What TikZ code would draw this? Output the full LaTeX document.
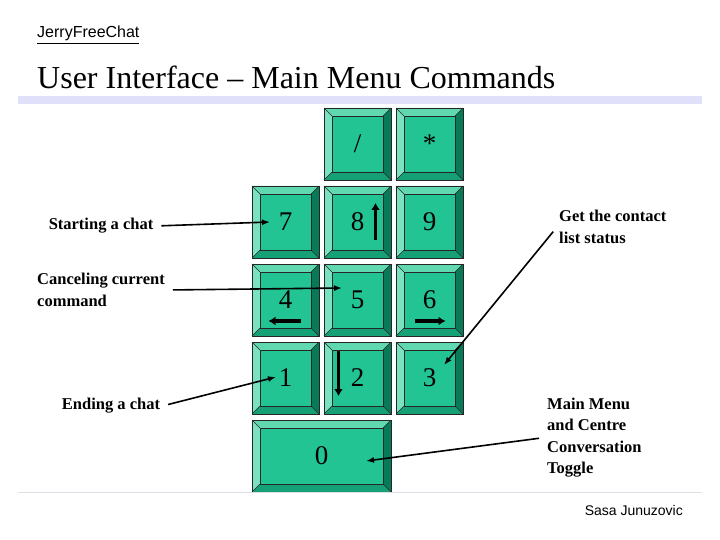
\documentclass[tikz,border=0pt]{standalone}
\usepackage{fontspec}
\setmainfont{Liberation Serif}
\setsansfont{Liberation Sans}
\usetikzlibrary{arrows.meta}

\definecolor{keyface}{RGB}{34,196,147}
\definecolor{keytop}{RGB}{96,216,176}
\definecolor{keyleft}{RGB}{122,226,192}
\definecolor{keyright}{RGB}{8,122,88}
\definecolor{keybot}{RGB}{22,160,118}
\definecolor{bandcol}{RGB}{224,224,250}
\definecolor{footcol}{RGB}{222,222,230}

\tikzset{
	keylabel/.style={inner sep=0pt, font=\fontsize{27}{30}\selectfont},
	side/.style={inner sep=2pt, align=left, font=\bfseries\fontsize{16.5}{21.5}\selectfont},
	callout/.style={line width=1.6pt, shorten <=6pt, -{Latex[length=8pt,width=6pt]}},
	dirarrow/.style={line width=3.5pt, -{Latex[length=7pt,width=9pt]}},
	keyline/.style={line width=0.8pt, draw=black!85}
}

% key cap: name, x, y (top left), width, height, label
\newcommand{\keycap}[6]{%
	\begin{scope}[shift={(#2,#3)}]
		\fill [keyface] (8,8) rectangle (#4-8,#5-8);
		\fill [keytop] (0,0) -- (#4,0) -- (#4-8,8) -- (8,8) -- cycle;
		\fill [keyleft] (0,0) -- (8,8) -- (8,#5-8) -- (0,#5) -- cycle;
		\fill [keyright] (#4,0) -- (#4,#5) -- (#4-8,#5-8) -- (#4-8,8) -- cycle;
		\fill [keybot] (0,#5) -- (8,#5-8) -- (#4-8,#5-8) -- (#4,#5) -- cycle;
		\draw [keyline, line width=0.4pt] (0,0) -- (8,8) (#4,0) -- (#4-8,8)
			(0,#5) -- (8,#5-8) (#4,#5) -- (#4-8,#5-8);
		\draw [keyline] (0,0) rectangle (#4,#5);
		\draw [keyline] (8,8) rectangle (#4-8,#5-8);
	\end{scope}
	\node [keylabel] (#1) at (#2+#4/2,#3+#5/2) {#6};
}

\begin{document}
\begin{tikzpicture}[x=1pt,y=-1pt]
	\useasboundingbox (0,0) rectangle (720,540);
	%Header
	\node [anchor=base west, inner sep=0pt, font=\sffamily\fontsize{16}{18}\selectfont] (brand) at (37,38) {\underline{JerryFreeChat}};
	\node [anchor=base west, inner sep=0pt, font=\fontsize{32}{36}\selectfont] (title) at (37,89) {User Interface – Main Menu Commands};
	\fill [bandcol] (18,96) rectangle (702,104);
	%Keys
	\keycap{kslash}{324}{108}{67}{72}{/}
	\keycap{kstar}{396}{108}{67}{72}{*}
	\keycap{k7}{252}{186}{67}{72}{7}
	\keycap{k8}{324}{186}{67}{72}{8}
	\keycap{k9}{396}{186}{67}{72}{9}
	\keycap{k4}{252}{264}{67}{72}{4}
	\keycap{k5}{324}{264}{67}{72}{5}
	\keycap{k6}{396}{264}{67}{72}{6}
	\keycap{k1}{252}{342}{67}{72}{1}
	\keycap{k2}{324}{342}{67}{72}{2}
	\keycap{k3}{396}{342}{67}{72}{3}
	\keycap{k0}{252}{420}{139}{72}{0}
	%Directions
	\draw [dirarrow] ([shift={(18,18)}]k8.center) -- ++(0,-37);
	\draw [dirarrow] ([shift={(15,21)}]k4.center) -- ++(-32,0);
	\draw [dirarrow] ([shift={(-15,21)}]k6.center) -- ++(31,0);
	\draw [dirarrow] ([shift={(-19,-27)}]k2.center) -- ++(0,45);
	%Tips
	\coordinate (tip7) at (270,222);
	\coordinate (tip5) at (342,288);
	\coordinate (tip1) at (276,377);
	\coordinate (tip3) at (444,365);
	\coordinate (tip0) at (366,461);
	%Labels
	\node [side] (start) at (101,226) {Starting a chat};
	\node [side, anchor=west] (cancel) at (35,290) {Canceling current\\command};
	\node [side] (ending) at (111,406) {Ending a chat};
	\node [side, anchor=west] (contact) at (557,227) {Get the contact\\list status};
	\node [side, anchor=west] (menu) at (545,437.5) {Main Menu\\and Centre\\Conversation\\Toggle};
	%Callouts
	\draw [callout] (start.east) -- (tip7);
	\draw [callout] (cancel.east) -- (tip5);
	\draw [callout] (ending.east) -- (tip1);
	\draw [callout] (contact.west) -- (tip3);
	\draw [callout] (menu.west) -- (tip0);
	%Footer
	\draw [footcol, line width=1pt] (18,492) -- (702,492);
	\node [anchor=base east, inner sep=0pt, font=\sffamily\fontsize{14}{16}\selectfont] (author) at (683,515) {Sasa Junuzovic};
\end{tikzpicture}
\end{document}
